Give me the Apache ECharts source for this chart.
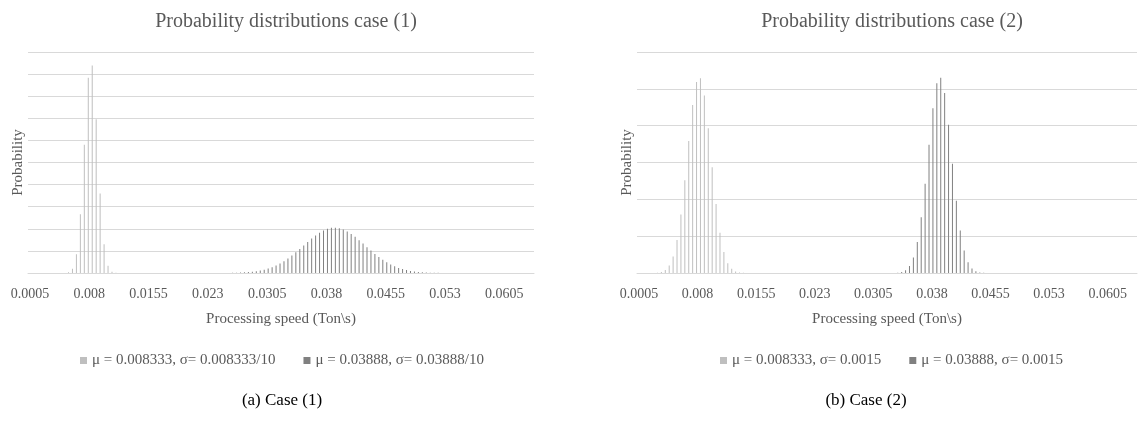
<!DOCTYPE html>
<html>
<head>
<meta charset="utf-8">
<script src="https://cdn.jsdelivr.net/npm/echarts/dist/echarts.min.js"></script>
<style>
  html, body { margin: 0; padding: 0; background: #ffffff; }
  #chart { width: 1139px; height: 424px; }
</style>
</head>
<body>
<div id="chart"></div>
<script>
// ---------- data ----------
const categories = [
  "0.0005","0.001","0.0015","0.002","0.0025","0.003","0.0035","0.004","0.0045","0.005",
  "0.0055","0.006","0.0065","0.007","0.0075","0.008","0.0085","0.009","0.0095","0.01",
  "0.0105","0.011","0.0115","0.012","0.0125","0.013","0.0135","0.014","0.0145","0.015",
  "0.0155","0.016","0.0165","0.017","0.0175","0.018","0.0185","0.019","0.0195","0.02",
  "0.0205","0.021","0.0215","0.022","0.0225","0.023","0.0235","0.024","0.0245","0.025",
  "0.0255","0.026","0.0265","0.027","0.0275","0.028","0.0285","0.029","0.0295","0.03",
  "0.0305","0.031","0.0315","0.032","0.0325","0.033","0.0335","0.034","0.0345","0.035",
  "0.0355","0.036","0.0365","0.037","0.0375","0.038","0.0385","0.039","0.0395","0.04",
  "0.0405","0.041","0.0415","0.042","0.0425","0.043","0.0435","0.044","0.0445","0.045",
  "0.0455","0.046","0.0465","0.047","0.0475","0.048","0.0485","0.049","0.0495","0.05",
  "0.0505","0.051","0.0515","0.052","0.0525","0.053","0.0535","0.054","0.0545","0.055",
  "0.0555","0.056","0.0565","0.057","0.0575","0.058","0.0585","0.059","0.0595","0.06",
  "0.0605","0.061","0.0615","0.062","0.0625","0.063","0.0635","0.064"
];

// Case (1)
const case1NameA = "μ = 0.008333, σ= 0.008333/10";
const case1NameB = "μ = 0.03888, σ= 0.03888/10";
const case1AX = ["0.005","0.0055","0.006","0.0065","0.007","0.0075","0.008","0.0085","0.009","0.0095","0.01","0.0105","0.011","0.0115"];
const case1AY = [0.00008,0.00074,0.00475,0.0213,0.0666,0.1452,0.2210,0.2346,0.1738,0.0898,0.0324,0.00815,0.00143,0.00017];
const case1BX = ["0.025","0.0255","0.026","0.0265","0.027","0.0275","0.028","0.0285","0.029","0.0295",
  "0.03","0.0305","0.031","0.0315","0.032","0.0325","0.033","0.0335","0.034","0.0345",
  "0.035","0.0355","0.036","0.0365","0.037","0.0375","0.038","0.0385","0.039","0.0395",
  "0.04","0.0405","0.041","0.0415","0.042","0.0425","0.043","0.0435","0.044","0.0445",
  "0.045","0.0455","0.046","0.0465","0.047","0.0475","0.048","0.0485","0.049","0.0495",
  "0.05","0.0505","0.051","0.0515","0.052","0.0525","0.053"];
const case1BY = [0.00009,0.00014,0.00021,0.00032,0.00048,0.00071,0.00102,0.00145,0.00203,0.00280,
  0.00378,0.00503,0.00658,0.00847,0.01072,0.01335,0.01635,0.01970,0.02334,0.02720,
  0.03118,0.03516,0.03899,0.04254,0.04564,0.04817,0.05000,0.05106,0.05128,0.05066,
  0.04921,0.04703,0.04421,0.04088,0.03718,0.03326,0.02926,0.02532,0.02156,0.01805,
  0.01486,0.01204,0.00959,0.00752,0.00579,0.00439,0.00328,0.00240,0.00173,0.00123,
  0.00086,0.00059,0.00040,0.00026,0.00017,0.00011,0.00007];

// Case (2)
const case2NameA = "μ = 0.008333, σ= 0.0015";
const case2NameB = "μ = 0.03888, σ= 0.0015";
const case2AX = ["0.0025","0.003","0.0035","0.004","0.0045","0.005","0.0055","0.006","0.0065","0.007",
  "0.0075","0.008","0.0085","0.009","0.0095","0.01","0.0105","0.011","0.0115","0.012",
  "0.0125","0.013","0.0135","0.014"];
const case2AY = [0.00007,0.00024,0.00074,0.00205,0.00508,0.01126,0.02234,0.03967,0.06303,0.0896,
  0.1140,0.1297,0.1322,0.1205,0.0983,0.0717,0.0468,0.02737,0.01432,0.0067,
  0.00281,0.00105,0.00035,0.00011];
const case2BX = ["0.033","0.0335","0.034","0.0345","0.035","0.0355","0.036","0.0365","0.037","0.0375",
  "0.038","0.0385","0.039","0.0395","0.04","0.0405","0.041","0.0415","0.042","0.0425",
  "0.043","0.0435","0.044","0.0445"];
const case2BY = [0.00006,0.00021,0.00067,0.00187,0.00469,0.0105,0.02105,0.03777,0.06063,0.0871,
  0.1119,0.1288,0.1325,0.1221,0.1006,0.0742,0.049,0.02892,0.01529,0.00723,
  0.00306,0.00116,0.00039,0.00012];

const titles = ["Probability distributions case (1)", "Probability distributions case (2)"];
const captions = ["(a) Case (1)", "(b) Case (2)"];
const xName = "Processing speed (Ton\\s)";
const yName = "Probability";

// ---------- layout / style ----------
const SERIF = '"Liberation Serif", "DejaVu Serif", serif';
const TXT = '#595959';
const GRIDC = '#d9d9d9';
const colA = '#bfbfbf';
const colB = '#808080';

const grids = [
  { left: 28, top: 52, width: 506, height: 221 },
  { left: 637, top: 52, width: 500, height: 221 }
];
const centers = grids.map(g => g.left + g.width / 2);

function zip(xs, ys) { return xs.map((x, i) => [x, ys[i]]); }

// measure legend width to center it under each chart
const cv = document.createElement('canvas').getContext('2d');
const LEG_FS = 15, ICON = 7, GAP = 28;
cv.font = LEG_FS + 'px ' + SERIF;
function legendLeft(names, center) {
  let w = 0;
  names.forEach((n, i) => { w += ICON + 5 + cv.measureText(n).width + (i ? GAP : 0); });
  return Math.round(center - w / 2);
}

function makeX(idx) {
  return {
    type: 'category', gridIndex: idx, data: categories, boundaryGap: true,
    axisTick: { show: false },
    axisLine: { lineStyle: { color: GRIDC, width: 1 } },
    axisLabel: { interval: 14, margin: 14, fontFamily: SERIF, fontSize: 14, color: TXT },
    name: xName, nameLocation: 'middle', nameGap: 39,
    nameTextStyle: { fontFamily: SERIF, fontSize: 15, color: TXT }
  };
}
function makeY(idx, max) {
  return {
    type: 'value', gridIndex: idx, min: 0, max: max, interval: 0.025,
    axisLabel: { show: false }, axisLine: { show: false }, axisTick: { show: false },
    splitLine: { lineStyle: { color: GRIDC, width: 1 } },
    name: yName, nameLocation: 'middle', nameGap: 2,
    nameTextStyle: { fontFamily: SERIF, fontSize: 15, color: TXT }
  };
}
function makeBar(name, xs, ys, idx, color) {
  return {
    type: 'bar', name: name, xAxisIndex: idx, yAxisIndex: idx,
    data: zip(xs, ys), barWidth: 1, barGap: '100%',
    itemStyle: { color: color }, silent: true
  };
}
function makeLegend(names, center, shift) {
  return {
    data: names, left: legendLeft(names, center) + shift, top: 348,
    icon: 'rect', itemWidth: ICON, itemHeight: ICON, itemGap: GAP,
    textStyle: { fontFamily: SERIF, fontSize: LEG_FS, color: TXT }
  };
}

const chart = echarts.init(document.getElementById('chart'), null, { renderer: 'canvas' });
chart.setOption({
  animation: false,
  backgroundColor: '#ffffff',
  title: titles.map((t, i) => ({
    text: t, left: centers[i], top: 7, textAlign: 'center',
    textStyle: { fontFamily: SERIF, fontSize: 20, fontWeight: 'normal', color: TXT }
  })),
  legend: [
    makeLegend([case1NameA, case1NameB], centers[0], -4),
    makeLegend([case2NameA, case2NameB], centers[1], 0)
  ],
  grid: grids,
  xAxis: [makeX(0), makeX(1)],
  yAxis: [makeY(0, 0.25), makeY(1, 0.15)],
  series: [
    makeBar(case1NameA, case1AX, case1AY, 0, colA),
    makeBar(case1NameB, case1BX, case1BY, 0, colB),
    makeBar(case2NameA, case2AX, case2AY, 1, colA),
    makeBar(case2NameB, case2BX, case2BY, 1, colB)
  ],
  graphic: [
    { type: 'text', x: 282, y: 401, style: { text: captions[0], font: '17px ' + SERIF, fill: '#000000', align: 'center', verticalAlign: 'middle' } },
    { type: 'text', x: 866, y: 401, style: { text: captions[1], font: '17px ' + SERIF, fill: '#000000', align: 'center', verticalAlign: 'middle' } }
  ]
});
</script>
</body>
</html>
